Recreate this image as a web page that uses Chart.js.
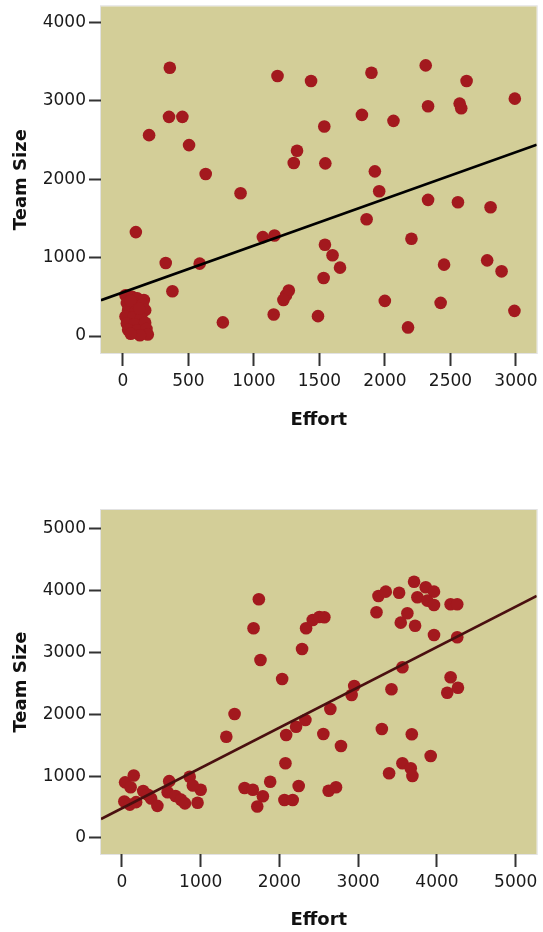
<!DOCTYPE html>
<html>
<head>
<meta charset="utf-8">
<script src="https://cdn.jsdelivr.net/npm/chart.js@4.4.1/dist/chart.umd.min.js"></script>
<style>
  html, body { margin: 0; padding: 0; background: #fff; }
  #wrap { position: relative; width: 543px; height: 932px; }
  canvas { position: absolute; left: 0; }
</style>
</head>
<body>
<div id="wrap">
  <canvas id="chartTop" width="543" height="465" style="top:0;width:543px;height:465px"></canvas>
  <canvas id="chartBottom" width="543" height="467" style="top:465px;width:543px;height:467px"></canvas>
</div>
<script>
// top scatter: Effort vs Team Size
const effortTop = [358, 352, 454, 200, 505, 632, 898, 1180, 1436, 1897, 2311, 2623, 2991,
  1537, 1824, 2065, 2329, 2570, 2582, 1329, 1304, 1545, 1923, 1956, 2329, 2557, 2806, 1860,
  99, 327, 586, 378, 763, 1068, 1157, 1151, 2202, 1542, 1600, 1657, 1532, 2451, 2780, 2890,
  1266, 1245, 1225, 1489, 1999, 2425, 2176, 2988,
  20, 70, 110, 160, 30, 90, 150, 40, 100, 170, 20, 80, 140, 30, 90, 170, 40, 110, 180, 190, 130, 60, 60, 125];
const teamTop = [3420, 2794, 2794, 2561, 2434, 2066, 1820, 3314, 3251, 3356, 3450, 3251, 3026,
  2671, 2819, 2743, 2929, 2963, 2904, 2362, 2205, 2201, 2099, 1845, 1736, 1706, 1642, 1488,
  1325, 931, 923, 571, 174, 1261, 1282, 275, 1240, 1164, 1029, 872, 740, 910, 965, 825,
  580, 520, 460, 254, 448, 423, 110, 321,
  520, 500, 480, 460, 420, 410, 400, 330, 320, 330, 250, 240, 230, 160, 150, 170, 80, 70, 90, 20, 10, 30, 450, 350];
const fitTopX = [-167, 3158];
const fitTopY = [457, 2438];
const xTicksTop = [0, 500, 1000, 1500, 2000, 2500, 3000];
const yTicksTop = [0, 1000, 2000, 3000, 4000];

// bottom scatter
const effortBottom = [40, 150, 110, 30, 100, 180, 270, 330, 370, 450, 600, 580, 680, 750, 800, 860, 1000, 960, 900,
  1325, 1430, 1557, 1662, 1789, 1718, 1882, 1738, 1671, 1759, 2034, 2338, 2422, 2506, 2570, 2287,
  2949, 2916, 2646, 2329, 2211, 2085, 2557, 2781, 2076, 2244, 2063, 2168, 2624, 2718,
  3300, 3680, 3920, 3561, 3667, 3688, 3392,
  3257, 3350, 3519, 3232, 3709, 3857, 3962, 3751, 3877, 3962, 4173, 4257, 3624, 3540, 3722, 3962, 4257, 3561,
  3422, 4173, 4266, 4130];
const teamBottom = [900, 1010, 820, 590, 540, 580, 760, 700, 640, 520, 920, 740, 680, 620, 560, 990, 780, 570, 850,
  1639, 2006, 810, 780, 675, 510, 911, 3862, 3393, 2880, 2573, 3393, 3528, 3575, 3571, 3058,
  2460, 2314, 2087, 1909, 1801, 1667, 1683, 1489, 1209, 841, 615, 615, 765, 820,
  1764, 1678, 1327, 1209, 1128, 1003, 1047,
  3916, 3986, 3969, 3652, 4147, 4057, 3986, 3895, 3840, 3770, 3781, 3781, 3636, 3484, 3435, 3285, 3248, 2762,
  2406, 2600, 2432, 2351];
const fitBottomX = [-266, 5266];
const fitBottomY = [307, 3916];
const xTicksBottom = [0, 1000, 2000, 3000, 4000, 5000];
const yTicksBottom = [0, 1000, 2000, 3000, 4000, 5000];

const PLOT_BG = '#d3ce98';
const DOT = '#a3191e';
const TICK_FONT = { family: "'DejaVu Sans', sans-serif", size: 17 };
const TITLE_FONT = { family: "'DejaVu Sans', sans-serif", size: 18, weight: 'bold' };

const plotBg = {
  id: 'plotBg',
  beforeDraw(chart) {
    const { ctx, chartArea: a } = chart;
    ctx.save();
    ctx.fillStyle = PLOT_BG;
    ctx.fillRect(a.left, a.top, a.width, a.height);
    ctx.strokeStyle = '#e2e2e2';
    ctx.lineWidth = 1;
    ctx.strokeRect(a.left - 0.5, a.top - 0.5, a.width + 1, a.height + 1);
    ctx.restore();
  }
};

function toPoints(xs, ys) {
  return xs.map((x, i) => ({ x, y: ys[i] }));
}

function makeScatter(id, o) {
  new Chart(document.getElementById(id), {
    type: 'scatter',
    data: {
      datasets: [
        {
          data: toPoints(o.fitX, o.fitY),
          showLine: true,
          borderColor: o.lineColor,
          borderWidth: 2.5,
          pointRadius: 0,
          order: 0,
        },
        {
          data: toPoints(o.xs, o.ys),
          backgroundColor: DOT,
          borderWidth: 0,
          pointRadius: 6.3,
          order: 1,
        }
      ]
    },
    options: {
      responsive: false,
      animation: false,
      events: [],
      layout: { padding: { top: o.top, right: 5, left: 0, bottom: 0 } },
      plugins: { legend: { display: false }, tooltip: { enabled: false } },
      scales: {
        x: {
          type: 'linear',
          min: o.xMin, max: o.xMax,
          afterBuildTicks: s => { s.ticks = o.xTicks.map(v => ({ value: v })); },
          afterFit: s => { s.height = o.xAxisH; s.paddingLeft = 0; s.paddingRight = 0; },
          grid: { drawOnChartArea: false, drawTicks: true, tickLength: 13, tickWidth: 2, tickColor: '#333' },
          border: { display: false },
          ticks: { color: '#1a1a1a', font: TICK_FONT, padding: 5, maxRotation: 0, callback: v => String(v) },
          title: { display: true, text: 'Effort', color: '#111', font: TITLE_FONT, padding: { top: 0, bottom: o.xTitlePad } }
        },
        y: {
          type: 'linear',
          min: o.yMin, max: o.yMax,
          afterBuildTicks: s => { s.ticks = o.yTicks.map(v => ({ value: v })); },
          afterFit: s => { s.width = 101; s.paddingTop = 0; s.paddingBottom = 0; },
          grid: { drawOnChartArea: false, drawTicks: true, tickLength: 12, tickWidth: 2, tickColor: '#333' },
          border: { display: false },
          ticks: { color: '#1a1a1a', font: TICK_FONT, padding: 3, callback: v => String(v) },
          title: { display: true, text: 'Team Size', color: '#111', font: TITLE_FONT, padding: { top: 11, bottom: 0 } }
        }
      }
    },
    plugins: [plotBg]
  });
}

makeScatter('chartTop', {
  xs: effortTop, ys: teamTop, fitX: fitTopX, fitY: fitTopY,
  xTicks: xTicksTop, yTicks: yTicksTop,
  xMin: -167, xMax: 3158, yMin: -216, yMax: 4203,
  top: 5, xAxisH: 112, xTitlePad: 34, lineColor: '#000'
});

makeScatter('chartBottom', {
  xs: effortBottom, ys: teamBottom, fitX: fitBottomX, fitY: fitBottomY,
  xTicks: xTicksBottom, yTicks: yTicksBottom,
  xMin: -266, xMax: 5266, yMin: -259, yMax: 5307,
  top: 45, xAxisH: 78, xTitlePad: 1, lineColor: '#4a0f10'
});
</script>
</body>
</html>
